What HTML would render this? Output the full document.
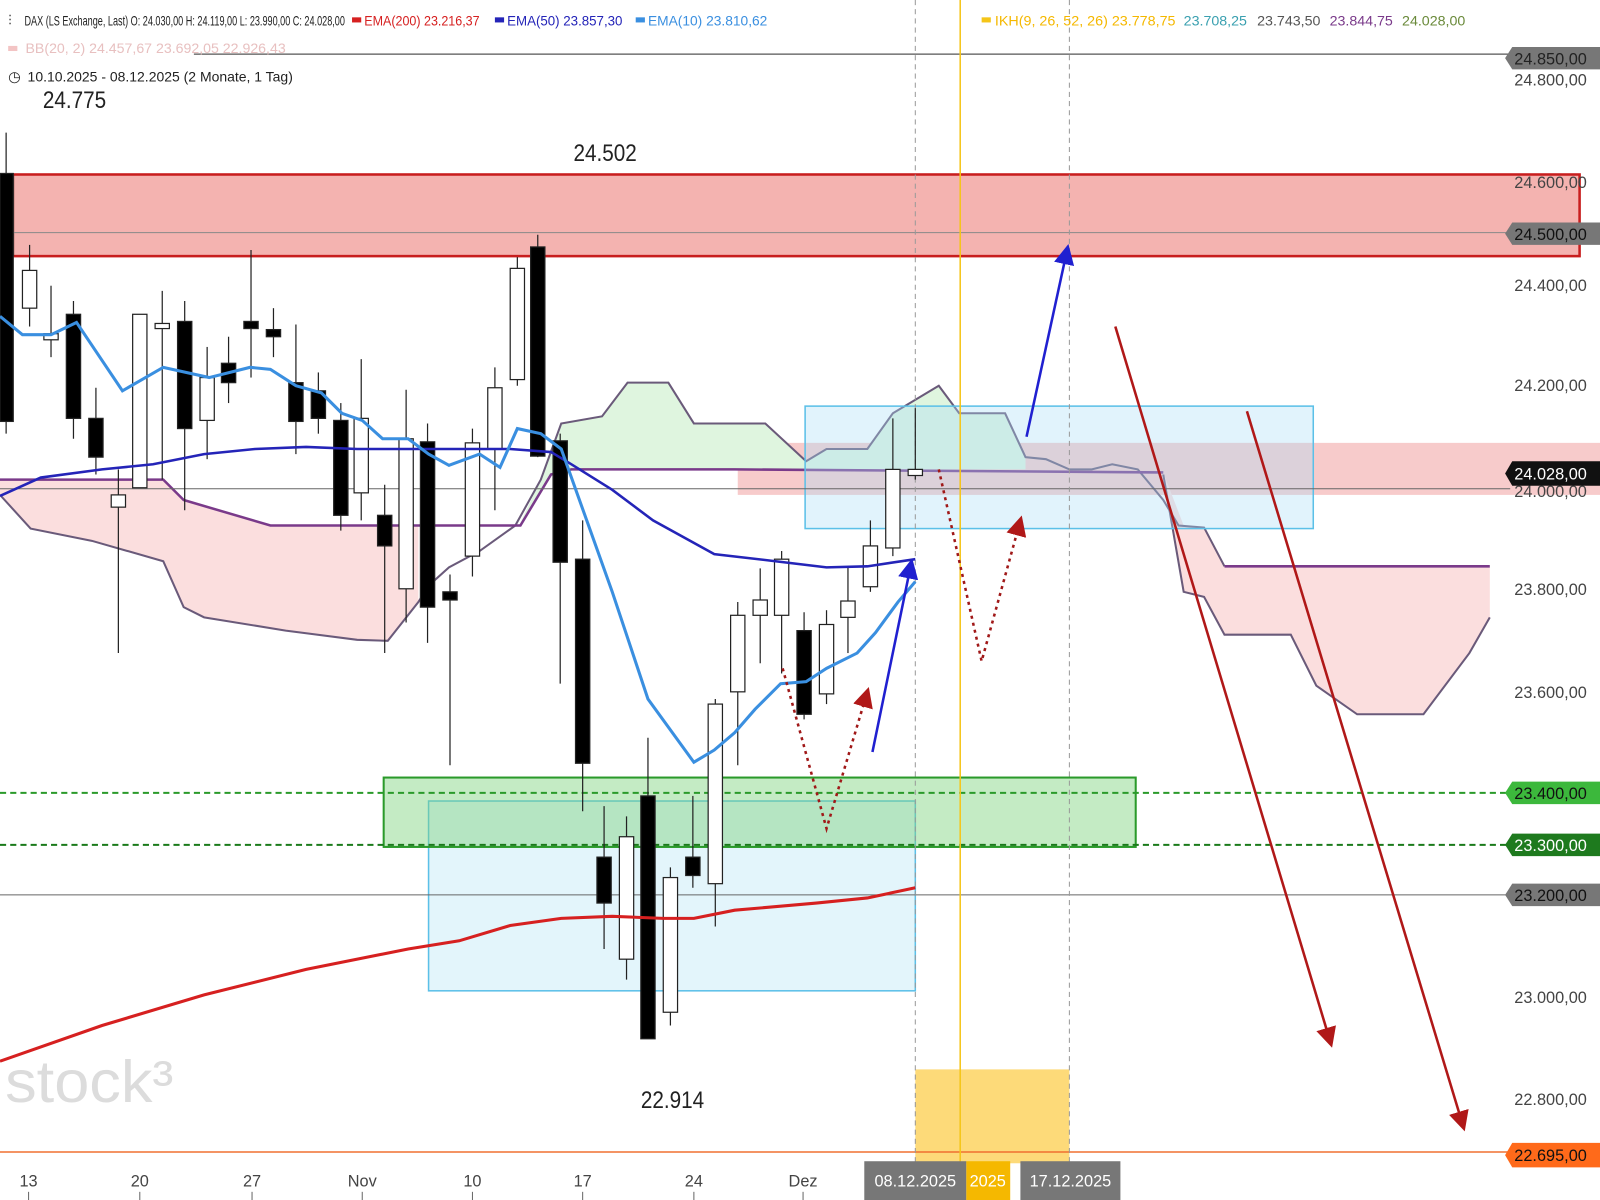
<!DOCTYPE html>
<html><head><meta charset="utf-8"><style>
html,body{margin:0;padding:0;background:#fff;}
svg{display:block;font-family:"Liberation Sans",sans-serif;}
</style></head><body>
<svg width="1600" height="1200" viewBox="0 0 1568 1176" preserveAspectRatio="none" xmlns="http://www.w3.org/2000/svg">
<rect width="1568" height="1176" fill="#fff"/>
<rect x="0" y="171" width="1548" height="80" fill="#f4b3b0" stroke="#c81e1e" stroke-width="2.5"/>
<rect x="0" y="171" width="14" height="80" fill="#5a1a1a" opacity="0.6"/>
<rect x="723" y="434" width="845" height="51" fill="#f0a0a0" opacity="0.55"/>
<path d="M0,470 L160,470 L180,490 L265,515 L410,515 L410,590 L380,628 L350,627 L280,618 L200,605 L180,595 L160,550 L90,530 L30,518 L0,485Z" fill="#fbdede"/>
<path d="M510,512 L530,470 L550,415 L590,408 L615,375 L655,375 L680,415 L750,415 L790,452 L810,440 L850,440 L875,405 L920,378 L940,405 L985,405 L1005,448 L1005,460 L720,460 L560,460 L540,465Z" fill="#dff5df"/>
<path d="M1140,463 L1160,515 L1180,517 L1200,555 L1460,555 L1460,605 L1440,640 L1395,700 L1330,700 L1290,672 L1265,622 L1200,622 L1180,585 L1160,580Z" fill="#fbdede"/>
<polyline fill="none" stroke="#6a5a7a" stroke-width="2" points="0,485 30,518 90,530 160,550 180,595 200,605 280,618 350,627 380,628 410,590 420,574 440,556 470,540 505,515 530,470 550,415 590,408 615,375 655,375 680,415 750,415 790,452 810,440 850,440 875,405 920,378 940,405 985,405 1005,448 1025,450 1048,460 1070,460 1090,455 1115,460 1140,490 1155,515 1180,517 1200,555"/>
<polyline fill="none" stroke="#6a5a7a" stroke-width="2" points="1140,465 1160,580 1180,585 1200,622 1265,622 1290,672 1330,700 1395,700 1440,640 1460,605"/>
<polyline fill="none" stroke="#7a3a8a" stroke-width="2.5" points="0,470 160,470 180,490 265,515 510,515 540,465 560,460 720,460 1140,463"/>
<polyline fill="none" stroke="#7a3a8a" stroke-width="2.5" points="1200,555 1460,555"/>
<rect x="789" y="398" width="498" height="120" fill="#aadcf5" fill-opacity="0.35" stroke="#5bc0e8" stroke-width="1.5"/>
<rect x="420" y="785" width="477" height="186" fill="#c8ecf8" fill-opacity="0.5" stroke="#5bc0e8" stroke-width="1.5"/>
<rect x="376" y="762" width="737" height="68" fill="#7cd27c" fill-opacity="0.45" stroke="#2a9a2a" stroke-width="2"/>
<rect x="897" y="1048" width="151" height="92" fill="#fdd66a" opacity="0.9"/>
<line x1="190" y1="53" x2="1480" y2="53" stroke="#555" stroke-width="1.2"/>
<line x1="0" y1="228" x2="1480" y2="228" stroke="#888" stroke-width="1"/>
<line x1="0" y1="479" x2="1480" y2="479" stroke="#666" stroke-width="1"/>
<line x1="0" y1="877" x2="1480" y2="877" stroke="#666" stroke-width="1"/>
<line x1="0" y1="777" x2="1480" y2="777" stroke="#2a9a2a" stroke-width="2" stroke-dasharray="6,4"/>
<line x1="0" y1="828" x2="1480" y2="828" stroke="#1a7a1a" stroke-width="2" stroke-dasharray="6,4"/>
<line x1="0" y1="1129" x2="1480" y2="1129" stroke="#f07030" stroke-width="1.5"/>
<line x1="897" y1="0" x2="897" y2="1150" stroke="#999" stroke-dasharray="5,4"/>
<line x1="1048" y1="0" x2="1048" y2="1150" stroke="#999" stroke-dasharray="5,4"/>
<line x1="941" y1="0" x2="941" y2="1150" stroke="#f5c518" stroke-width="1.5"/>
<text x="5" y="1080" font-size="58" fill="#dcdcdc" textLength="165" lengthAdjust="spacingAndGlyphs">stock³</text>
<g stroke="#222" stroke-width="1.2">
<line x1="6" y1="130" x2="6" y2="425"/><rect x="0" y="170" width="13" height="243" fill="#000"/>
<line x1="29" y1="240" x2="29" y2="320"/><rect x="22" y="265" width="14" height="37" fill="#fff"/>
<line x1="50" y1="280" x2="50" y2="350"/><rect x="43" y="327" width="14" height="6" fill="#fff"/>
<line x1="72" y1="295" x2="72" y2="430"/><rect x="65" y="308" width="14" height="102" fill="#000"/>
<line x1="94" y1="380" x2="94" y2="465"/><rect x="87" y="410" width="14" height="38" fill="#000"/>
<line x1="116" y1="460" x2="116" y2="640"/><rect x="109" y="485" width="14" height="12" fill="#fff"/>
<line x1="137" y1="308" x2="137" y2="478"/><rect x="130" y="308" width="14" height="170" fill="#fff"/>
<line x1="159" y1="285" x2="159" y2="470"/><rect x="152" y="317" width="14" height="5" fill="#fff"/>
<line x1="181" y1="295" x2="181" y2="500"/><rect x="174" y="315" width="14" height="105" fill="#000"/>
<line x1="203" y1="340" x2="203" y2="450"/><rect x="196" y="370" width="14" height="42" fill="#fff"/>
<line x1="224" y1="330" x2="224" y2="395"/><rect x="217" y="356" width="14" height="19" fill="#000"/>
<line x1="246" y1="245" x2="246" y2="370"/><rect x="239" y="315" width="14" height="7" fill="#000"/>
<line x1="268" y1="302" x2="268" y2="350"/><rect x="261" y="323" width="14" height="7" fill="#000"/>
<line x1="290" y1="318" x2="290" y2="445"/><rect x="283" y="375" width="14" height="38" fill="#000"/>
<line x1="312" y1="365" x2="312" y2="425"/><rect x="305" y="383" width="14" height="27" fill="#000"/>
<line x1="334" y1="395" x2="334" y2="520"/><rect x="327" y="412" width="14" height="93" fill="#000"/>
<line x1="354" y1="352" x2="354" y2="510"/><rect x="347" y="410" width="14" height="73" fill="#fff"/>
<line x1="377" y1="475" x2="377" y2="640"/><rect x="370" y="505" width="14" height="30" fill="#000"/>
<line x1="398" y1="382" x2="398" y2="610"/><rect x="391" y="430" width="14" height="147" fill="#fff"/>
<line x1="419" y1="415" x2="419" y2="630"/><rect x="412" y="433" width="14" height="162" fill="#000"/>
<line x1="441" y1="563" x2="441" y2="750"/><rect x="434" y="580" width="14" height="8" fill="#000"/>
<line x1="463" y1="420" x2="463" y2="565"/><rect x="456" y="434" width="14" height="111" fill="#fff"/>
<line x1="485" y1="360" x2="485" y2="500"/><rect x="478" y="380" width="14" height="60" fill="#fff"/>
<line x1="507" y1="252" x2="507" y2="378"/><rect x="500" y="263" width="14" height="109" fill="#fff"/>
<line x1="527" y1="230" x2="527" y2="448"/><rect x="520" y="242" width="14" height="205" fill="#000"/>
<line x1="549" y1="425" x2="549" y2="670"/><rect x="542" y="432" width="14" height="119" fill="#000"/>
<line x1="571" y1="510" x2="571" y2="795"/><rect x="564" y="548" width="14" height="200" fill="#000"/>
<line x1="592" y1="790" x2="592" y2="930"/><rect x="585" y="840" width="14" height="45" fill="#000"/>
<line x1="614" y1="800" x2="614" y2="960"/><rect x="607" y="820" width="14" height="120" fill="#fff"/>
<line x1="635" y1="723" x2="635" y2="1018"/><rect x="628" y="780" width="14" height="238" fill="#000"/>
<line x1="657" y1="850" x2="657" y2="1005"/><rect x="650" y="860" width="14" height="132" fill="#fff"/>
<line x1="679" y1="780" x2="679" y2="870"/><rect x="672" y="840" width="14" height="18" fill="#000"/>
<line x1="701" y1="685" x2="701" y2="908"/><rect x="694" y="690" width="14" height="176" fill="#fff"/>
<line x1="723" y1="590" x2="723" y2="750"/><rect x="716" y="603" width="14" height="75" fill="#fff"/>
<line x1="745" y1="557" x2="745" y2="650"/><rect x="738" y="588" width="14" height="15" fill="#fff"/>
<line x1="766" y1="540" x2="766" y2="660"/><rect x="759" y="548" width="14" height="55" fill="#fff"/>
<line x1="788" y1="600" x2="788" y2="705"/><rect x="781" y="618" width="14" height="82" fill="#000"/>
<line x1="810" y1="598" x2="810" y2="690"/><rect x="803" y="612" width="14" height="68" fill="#fff"/>
<line x1="831" y1="555" x2="831" y2="640"/><rect x="824" y="589" width="14" height="16" fill="#fff"/>
<line x1="853" y1="510" x2="853" y2="580"/><rect x="846" y="535" width="14" height="40" fill="#fff"/>
<line x1="875" y1="410" x2="875" y2="545"/><rect x="868" y="460" width="14" height="77" fill="#fff"/>
<line x1="897" y1="400" x2="897" y2="470"/><rect x="890" y="460" width="14" height="6" fill="#fff"/>
</g>
<polyline fill="none" stroke="#d62020" stroke-width="3" points="0,1040 100,1005 200,975 300,950 400,930 450,922 500,907 550,900 600,898 650,900 680,900 720,892 800,885 850,880 897,870"/>
<polyline fill="none" stroke="#2424b8" stroke-width="2.5" points="0,486 40,468 100,460 150,455 200,445 250,440 300,438 350,440 400,440 450,440 500,440 540,443 560,455 600,480 640,510 700,543 760,550 810,556 850,555 897,548"/>
<polyline fill="none" stroke="#3a8fe0" stroke-width="3" points="0,310 22,328 50,328 75,316 120,383 160,360 205,370 245,360 265,362 290,378 315,385 335,405 355,412 375,430 400,430 420,445 440,456 470,445 490,458 507,420 530,425 550,440 575,510 600,580 635,685 680,747 700,735 720,718 740,695 765,670 790,668 810,655 840,640 858,620 880,590 897,570"/>
<defs>
<marker id="ab" markerWidth="8" markerHeight="8" refX="6" refY="4" orient="auto"><path d="M0,0 L8,4 L0,8Z" fill="#2020d0"/></marker>
<marker id="ar" markerWidth="8" markerHeight="8" refX="6" refY="4" orient="auto"><path d="M0,0 L8,4 L0,8Z" fill="#b01818"/></marker>
</defs>
<line x1="855" y1="737" x2="893" y2="552" stroke="#2020d0" stroke-width="2.5" marker-end="url(#ab)"/>
<line x1="1006" y1="428" x2="1046" y2="244" stroke="#2020d0" stroke-width="2.5" marker-end="url(#ab)"/>
<line x1="1093" y1="320" x2="1304" y2="1022" stroke="#b01818" stroke-width="2.5" marker-end="url(#ar)"/>
<line x1="1222" y1="403" x2="1434" y2="1104" stroke="#b01818" stroke-width="2.5" marker-end="url(#ar)"/>
<polyline fill="none" stroke="#a01818" stroke-width="2.5" stroke-dasharray="3,4" points="767,655 810,812 850,678" marker-end="url(#ar)"/>
<polyline fill="none" stroke="#a01818" stroke-width="2.5" stroke-dasharray="3,4" points="920,460 962,648 1000,510" marker-end="url(#ar)"/>
<text x="42" y="106" font-size="24" fill="#222" textLength="62" lengthAdjust="spacingAndGlyphs">24.775</text>
<text x="562" y="158" font-size="24" fill="#222" textLength="62" lengthAdjust="spacingAndGlyphs">24.502</text>
<text x="628" y="1086" font-size="24" fill="#222" textLength="62" lengthAdjust="spacingAndGlyphs">22.914</text>
<g font-size="16" fill="#444" text-anchor="start">
<text x="1484" y="84">24.800,00</text>
<text x="1484" y="184">24.600,00</text>
<text x="1484" y="285">24.400,00</text>
<text x="1484" y="383">24.200,00</text>
<text x="1484" y="487">24.000,00</text>
<text x="1484" y="583">23.800,00</text>
<text x="1484" y="684">23.600,00</text>
<text x="1484" y="983">23.000,00</text>
<text x="1484" y="1083">22.800,00</text>
</g>
<g font-size="16">
<path d="M1475,57 L1482,46 L1568,46 L1568,68 L1482,68Z" fill="#777"/><text x="1484" y="63" fill="#222">24.850,00</text>
<path d="M1475,229 L1482,218 L1568,218 L1568,240 L1482,240Z" fill="#777"/><text x="1484" y="235" fill="#111">24.500,00</text>
<path d="M1475,464 L1482,452 L1568,452 L1568,476 L1482,476Z" fill="#111"/><text x="1484" y="470" fill="#fff">24.028,00</text>
<path d="M1475,777 L1482,766 L1568,766 L1568,788 L1482,788Z" fill="#3cb83c"/><text x="1484" y="783" fill="#111">23.400,00</text>
<path d="M1475,828 L1482,817 L1568,817 L1568,839 L1482,839Z" fill="#1e7a1e"/><text x="1484" y="834" fill="#fff">23.300,00</text>
<path d="M1475,877 L1482,866 L1568,866 L1568,888 L1482,888Z" fill="#777"/><text x="1484" y="883" fill="#111">23.200,00</text>
<path d="M1475,1132 L1482,1120 L1568,1120 L1568,1144 L1482,1144Z" fill="#ff6a1a"/><text x="1484" y="1138" fill="#111">22.695,00</text>
</g>
<g font-size="16" fill="#444" text-anchor="middle">
<text x="28" y="1163">13</text><text x="137" y="1163">20</text><text x="247" y="1163">27</text>
<text x="355" y="1163">Nov</text><text x="463" y="1163">10</text><text x="571" y="1163">17</text>
<text x="680" y="1163">24</text><text x="787" y="1163">Dez</text>
</g>
<g stroke="#666"><line x1="28" y1="1168" x2="28" y2="1176"/><line x1="137" y1="1168" x2="137" y2="1176"/><line x1="247" y1="1168" x2="247" y2="1176"/><line x1="355" y1="1168" x2="355" y2="1176"/><line x1="463" y1="1168" x2="463" y2="1176"/><line x1="571" y1="1168" x2="571" y2="1176"/><line x1="680" y1="1168" x2="680" y2="1176"/><line x1="787" y1="1168" x2="787" y2="1176"/></g>
<rect x="847" y="1138" width="100" height="38" fill="#777"/><text x="897" y="1163" font-size="16" fill="#fff" text-anchor="middle">08.12.2025</text>
<rect x="947" y="1138" width="43" height="38" fill="#f5b800"/><text x="968" y="1163" font-size="16" fill="#fff" text-anchor="middle">2025</text>
<rect x="1000" y="1138" width="98" height="38" fill="#777"/><text x="1049" y="1163" font-size="16" fill="#fff" text-anchor="middle">17.12.2025</text>
<g font-size="14" fill="#222" lengthAdjust="spacingAndGlyphs">
<text x="8" y="25" fill="#555">⫶</text>
<text x="24" y="25" textLength="314" lengthAdjust="spacingAndGlyphs">DAX (LS Exchange, Last)  O: 24.030,00  H: 24.119,00  L: 23.990,00  C: 24.028,00</text>
<rect x="345" y="17" width="9" height="5" fill="#d62020"/><text x="357" y="25" fill="#d62020" textLength="113" lengthAdjust="spacingAndGlyphs">EMA(200)  23.216,37</text>
<rect x="485" y="17" width="9" height="5" fill="#2424b8"/><text x="497" y="25" fill="#2424b8" textLength="113" lengthAdjust="spacingAndGlyphs">EMA(50)  23.857,30</text>
<rect x="623" y="17" width="9" height="5" fill="#3a8fe0"/><text x="635" y="25" fill="#3a8fe0" textLength="117" lengthAdjust="spacingAndGlyphs">EMA(10)  23.810,62</text>
<rect x="962" y="17" width="9" height="5" fill="#f5c518"/><text x="975" y="25" fill="#f5b800" textLength="177" lengthAdjust="spacingAndGlyphs">IKH(9, 26, 52, 26)  23.778,75</text>
<text x="1160" y="25" fill="#3aa0b0" textLength="62" lengthAdjust="spacingAndGlyphs">23.708,25</text>
<text x="1232" y="25" fill="#555" textLength="62" lengthAdjust="spacingAndGlyphs">23.743,50</text>
<text x="1303" y="25" fill="#7a3a8a" textLength="62" lengthAdjust="spacingAndGlyphs">23.844,75</text>
<text x="1374" y="25" fill="#6a8a3a" textLength="62" lengthAdjust="spacingAndGlyphs">24.028,00</text>
<rect x="8" y="45" width="9" height="5" fill="#f3c4c4"/><text x="25" y="52" fill="#e8c0c0" textLength="255" lengthAdjust="spacingAndGlyphs">BB(20, 2)  24.457,67  23.692,05  22.926,43</text>
<text x="8" y="80">◷</text>
<text x="27" y="80" textLength="260" lengthAdjust="spacingAndGlyphs">10.10.2025 - 08.12.2025  (2 Monate, 1 Tag)</text>
</g>
</svg>
</body></html>
